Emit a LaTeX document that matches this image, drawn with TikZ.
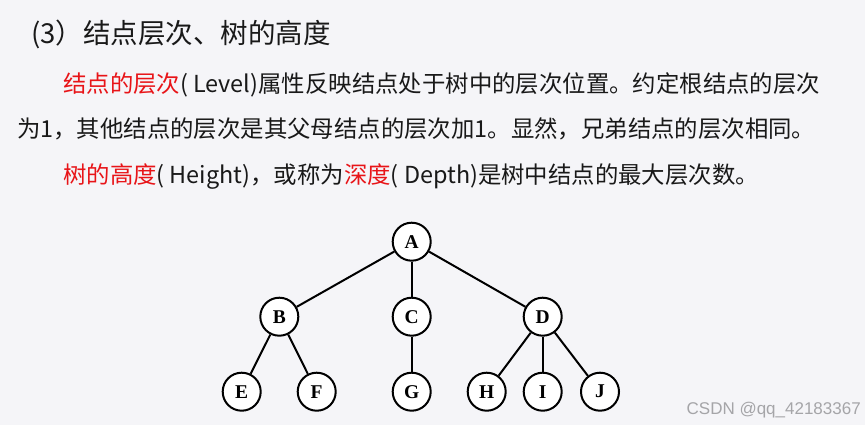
\documentclass[tikz,border=0pt]{standalone}
\usepackage{fontspec}
\setmainfont{Noto Sans CJK SC}
\newfontfamily\treefont{Liberation Serif}
\newfontfamily\markfont{Liberation Sans}
\definecolor{bgcol}{RGB}{245,245,248}
\definecolor{hlred}{RGB}{232,20,24}
\definecolor{txtcol}{RGB}{25,25,25}
\definecolor{markgray}{RGB}{165,165,168}
\tikzset{
  treenode/.style={circle, draw=black, fill=white, line width=2pt, minimum size=38pt, inner sep=0pt, font=\treefont\bfseries\fontsize{19.5}{19.5}\selectfont},
  treeedge/.style={line width=2pt, black},
  bodyline/.style={anchor=west, inner sep=0pt, text=txtcol, font=\fontsize{23.4}{28}\selectfont},
  titleline/.style={anchor=west, inner sep=0pt, text=txtcol, font=\fontsize{27.5}{30}\selectfont},
}
\begin{document}
\begin{tikzpicture}[x=1pt,y=-1pt]
\fill[bgcol] (0,0) rectangle (865,425);
\useasboundingbox (0,0) rectangle (865,425);
\node[titleline] (title) at (31,34) {(3）结点层次、树的高度};
\node[bodyline] (l1) at (63,85) {\textcolor{hlred}{结点的层次}( Level)属性反映结点处于树中的层次位置。约定根结点的层次};
\node[bodyline] (l2) at (17,129) {为1，其他结点的层次是其父母结点的层次加1。显然，兄弟结点的层次相同。};
\node[bodyline] (l3) at (63,177) {\textcolor{hlred}{树的高度}( Height)，或称为\textcolor{hlred}{深度}( Depth)是树中结点的最大层次数。};
\node[treenode] (A) at (411.7,241.7) {A};
\node[treenode] (B) at (279.3,316.7) {B};
\node[treenode] (C) at (411.7,316.7) {C};
\node[treenode] (D) at (542.7,316.7) {D};
\node[treenode] (E) at (241.7,391.7) {E};
\node[treenode] (F) at (316.7,391.7) {F};
\node[treenode] (G) at (411.7,391.7) {G};
\node[treenode] (H) at (486.7,391.7) {H};
\node[treenode] (I) at (542.7,391.7) {I};
\node[treenode] (J) at (600,391.7) {J};
\draw[treeedge] (A) -- (B);
\draw[treeedge] (A) -- (C);
\draw[treeedge] (A) -- (D);
\draw[treeedge] (B) -- (E);
\draw[treeedge] (B) -- (F);
\draw[treeedge] (C) -- (G);
\draw[treeedge] (D) -- (H);
\draw[treeedge] (D) -- (I);
\draw[treeedge] (D) -- (J);
\node[anchor=east, inner sep=0pt, text=markgray, font=\markfont\fontsize{17}{17}\selectfont] (mark) at (861,410) {CSDN @qq\_42183367};
\end{tikzpicture}
\end{document}
